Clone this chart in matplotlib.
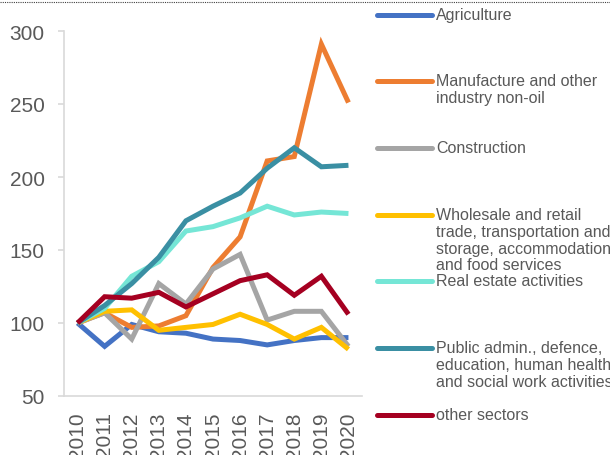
import matplotlib
matplotlib.use("Agg")
import matplotlib.pyplot as plt
from matplotlib.lines import Line2D

plt.rcParams['font.family'] = ['Liberation Sans', 'DejaVu Sans']

years = [2010, 2011, 2012, 2013, 2014, 2015, 2016, 2017, 2018, 2019, 2020]

agriculture = [100, 84, 99, 94, 93, 89, 88, 85, 88, 90, 90]
manufacture = [100, 107, 97, 98, 105, 138, 159, 211, 214, 291, 251]
construction = [100, 107, 89, 127, 113, 137, 147, 102, 108, 108, 84]
wholesale = [100, 108, 109, 95, 97, 99, 106, 99, 89, 97, 82]
real_estate = [100, 110, 132, 142, 163, 166, 172, 180, 174, 176, 175]
public_admin = [100, 112, 127, 145, 170, 180, 189, 206, 220, 207, 208]
other = [100, 118, 117, 121, 111, 120, 129, 133, 119, 132, 106]

labels = [
    "Agriculture",
    "Manufacture and other\nindustry non-oil",
    "Construction",
    "Wholesale and retail\ntrade, transportation and\nstorage, accommodation\nand food services",
    "Real estate activities",
    "Public admin., defence,\neducation, human health\nand social work activities",
    "other sectors",
]
series = [agriculture, manufacture, construction, wholesale, real_estate, public_admin, other]
colors = ["#4472C4", "#ED7D31", "#A5A5A5", "#FFC000", "#75E6D6", "#3A8FA3", "#A50021"]

W, H = 610, 456
fig = plt.figure(figsize=(W / 100, H / 100), dpi=100)
ax = fig.add_axes([64 / W, (H - 397) / H, 298 / W, 365 / H])

for vals, c in zip(series, colors):
    ax.plot(years, vals, color=c, lw=3.6, solid_joinstyle='miter', solid_capstyle='butt')

ax.set_xlim(2009.5, 2020.5)
ax.set_ylim(50, 300)
ax.set_yticks([50, 100, 150, 200, 250, 300])
ax.set_xticks(years)
ax.set_xticklabels([str(y) for y in years], rotation=90)

for s in ['top', 'right']:
    ax.spines[s].set_visible(False)
for s in ['left', 'bottom']:
    ax.spines[s].set_color('#D9D9D9')
    ax.spines[s].set_linewidth(1.2)

ax.tick_params(axis='y', length=4, width=1.2, color='#D9D9D9', pad=10,
               labelsize=15, labelcolor='#595959')
ax.tick_params(axis='x', length=0, pad=11, labelsize=15, labelcolor='#595959')

# legend drawn manually, handle aligned with first text line
row_y = [16, 82, 149, 216, 282, 349, 416]
for lab, c, y in zip(labels, colors, row_y):
    fy = 1 - y / H
    fig.add_artist(Line2D([377 / W, 432 / W], [fy, fy], color=c, lw=3.6,
                          solid_capstyle='round'))
    fig.text(436 / W, 1 - (y - 8) / H, lab, fontsize=11.5, color='#595959',
             va='top', ha='left', linespacing=1.15)

# dotted border remnant at top
fig.add_artist(Line2D([0, 1], [1 - 3 / H, 1 - 3 / H], color='#404040', lw=0.8,
                      linestyle=(0, (1, 1))))

fig.savefig("out.png", dpi=100)
